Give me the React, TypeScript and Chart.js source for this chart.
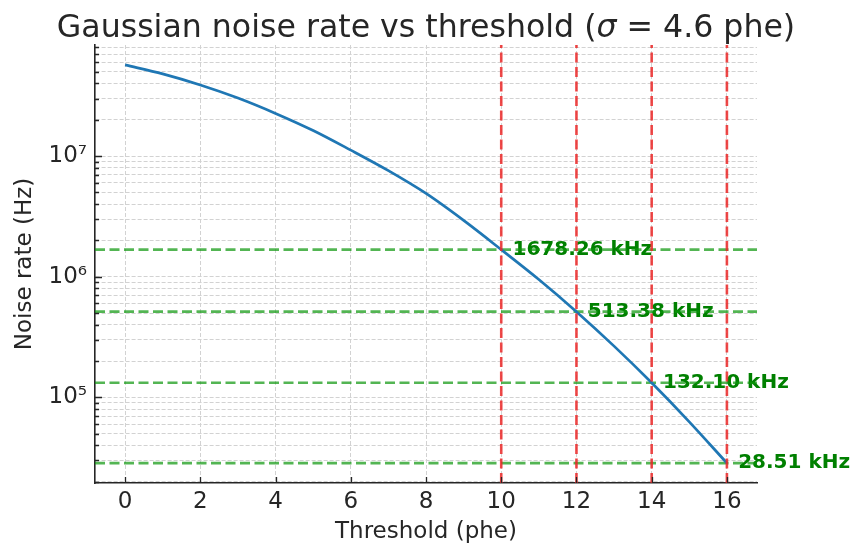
import React, { useEffect, useRef } from 'react';
import { Chart, registerables } from 'chart.js';

Chart.register(...registerables);

// ---- data ----
const thresholds = [0, 1, 2, 3, 4, 5, 6, 7, 8, 9, 10, 11, 12, 13, 14, 15, 16];
const noiseRateHz = [
  5.70e7, 4.81e7, 3.89e7, 3.03e7, 2.26e7, 1.63e7, 1.12e7, 7.57e6, 4.90e6,
  2.93e6, 1.67826e6, 9.48e5, 5.1338e5, 2.66e5, 1.321e5, 6.27e4, 2.851e4,
];
const markerThresholds = [10, 12, 14, 16];
const markerRatesHz = [1678260, 513380, 132100, 28510];
const markerLabels = ['1678.26 kHz', '513.38 kHz', '132.10 kHz', '28.51 kHz'];
const xTickValues = [0, 2, 4, 6, 8, 10, 12, 14, 16];
const yMajorTickValues = [1e5, 1e6, 1e7];
const yMajorTickLabels = ['10⁵', '10⁶', '10⁷'];

const X_MIN = -0.8;
const X_MAX = 16.8;
const Y_MIN = 1.95e4;
const Y_MAX = 8.34e7;

const FONT = "'DejaVu Sans', sans-serif";
const TEXT = '#262626';

function yAllTicks(): number[] {
  const out: number[] = [];
  for (let e = 4; e <= 7; e++) {
    for (let m = 1; m <= 9; m++) {
      const v = m * Math.pow(10, e);
      if (v >= Y_MIN && v <= Y_MAX) out.push(v);
    }
  }
  return out;
}

const overlayPlugin = {
  id: 'overlay',
  beforeDatasetsDraw(chart: any) {
    const { ctx, scales } = chart;
    const xs = scales.x;
    const ys = scales.y;
    ctx.save();
    ctx.font = `bold 20px ${FONT}`;
    ctx.fillStyle = '#008000';
    ctx.textAlign = 'left';
    ctx.textBaseline = 'middle';
    markerThresholds.forEach((t, i) => {
      const px = xs.getPixelForValue(t + 0.3);
      const py = ys.getPixelForValue(markerRatesHz[i]);
      ctx.fillText(markerLabels[i], px, py);
    });
    ctx.restore();
  },
  afterDraw(chart: any) {
    const { ctx, scales, chartArea } = chart;
    const xs = scales.x;
    const ys = scales.y;
    ctx.save();
    // inward tick marks
    ctx.strokeStyle = TEXT;
    ctx.lineWidth = 1.3;
    ctx.beginPath();
    xTickValues.forEach((v) => {
      const px = Math.round(xs.getPixelForValue(v)) + 0.5;
      ctx.moveTo(px, chartArea.bottom);
      ctx.lineTo(px, chartArea.bottom - 6);
    });
    yAllTicks().forEach((v) => {
      const py = Math.round(ys.getPixelForValue(v)) + 0.5;
      const major = yMajorTickValues.includes(v);
      ctx.moveTo(chartArea.left, py);
      ctx.lineTo(chartArea.left + (major ? 7 : 4), py);
    });
    ctx.stroke();

    // title with italic sigma
    const partA = 'Gaussian noise rate vs threshold (';
    const partB = 'σ';
    const partC = ' = 4.6 phe)';
    const fA = `31.6px ${FONT}`;
    const fB = `italic 31.6px ${FONT}`;
    ctx.font = fA;
    const wA = ctx.measureText(partA).width;
    const wC = ctx.measureText(partC).width;
    ctx.font = fB;
    const wB = ctx.measureText(partB).width;
    const total = wA + wB + wC;
    const cx = (chartArea.left + chartArea.right) / 2;
    let x = cx - total / 2;
    const y = 37;
    ctx.fillStyle = TEXT;
    ctx.textBaseline = 'alphabetic';
    ctx.textAlign = 'left';
    ctx.font = fA;
    ctx.fillText(partA, x, y);
    x += wA;
    ctx.font = fB;
    ctx.fillText(partB, x, y);
    x += wB;
    ctx.font = fA;
    ctx.fillText(partC, x, y);
    ctx.restore();
  },
};

export default function App() {
  const canvasRef = useRef<HTMLCanvasElement | null>(null);

  useEffect(() => {
    const canvas = canvasRef.current;
    if (!canvas) return;

    const curve = thresholds.map((t, i) => ({ x: t, y: noiseRateHz[i] }));
    const redLines = markerThresholds.map((t) => ({
      type: 'line',
      data: [
        { x: t, y: Y_MIN },
        { x: t, y: Y_MAX },
      ],
      borderColor: 'rgba(235,40,40,0.85)',
      borderWidth: 2.6,
      borderDash: [10, 4.5],
      pointRadius: 0,
      order: 1,
    }));
    const greenLines = markerRatesHz.map((r) => ({
      type: 'line',
      data: [
        { x: X_MIN, y: r },
        { x: X_MAX, y: r },
      ],
      borderColor: 'rgba(10,150,10,0.7)',
      borderWidth: 2.6,
      borderDash: [10, 4.5],
      pointRadius: 0,
      order: 3,
    }));

    const chart = new Chart(canvas, {
      type: 'line',
      data: {
        datasets: [
          {
            data: curve,
            borderColor: '#1f77b4',
            borderWidth: 2.7,
            pointRadius: 0,
            tension: 0.3,
            cubicInterpolationMode: 'monotone',
            order: 2,
          } as any,
          ...(redLines as any[]),
          ...(greenLines as any[]),
        ],
      },
      options: {
        responsive: false,
        animation: false,
        devicePixelRatio: 1,
        layout: { padding: { left: 0, right: 93, top: 45, bottom: 0 } },
        plugins: {
          legend: { display: false },
          tooltip: { enabled: false },
          title: { display: false },
        },
        scales: {
          x: {
            type: 'linear',
            min: X_MIN,
            max: X_MAX,
            afterBuildTicks: (scale: any) => {
              scale.ticks = xTickValues.map((v) => ({ value: v }));
            },
            afterFit: (scale: any) => {
              scale.height = 63;
            },
            ticks: {
              autoSkip: false,
              maxRotation: 0,
              padding: 5,
              color: TEXT,
              font: { family: FONT, size: 23 },
              callback: (v: any) => String(v),
            },
            grid: {
              drawTicks: false,
              color: '#d2d2d2',
              lineWidth: 1,
            },
            border: {
              display: true,
              color: TEXT,
              width: 1.6,
              dash: [4, 2],
            },
            title: {
              display: true,
              text: 'Threshold (phe)',
              color: TEXT,
              font: { family: FONT, size: 23 },
              padding: { top: 0, bottom: 0 },
            },
          },
          y: {
            type: 'logarithmic',
            min: Y_MIN,
            max: Y_MAX,
            afterBuildTicks: (scale: any) => {
              scale.ticks = yAllTicks().map((v) => ({ value: v }));
            },
            afterFit: (scale: any) => {
              scale.width = 95;
            },
            ticks: {
              autoSkip: false,
              padding: 8,
              color: TEXT,
              font: { family: FONT, size: 23 },
              callback: (v: any) => {
                const idx = yMajorTickValues.indexOf(Number(v));
                return idx >= 0 ? yMajorTickLabels[idx] : '';
              },
            },
            grid: {
              drawTicks: false,
              color: '#d2d2d2',
              lineWidth: 1,
            },
            border: {
              display: true,
              color: TEXT,
              width: 1.6,
              dash: [4, 2],
            },
            title: {
              display: true,
              text: 'Noise rate (Hz)',
              color: TEXT,
              font: { family: FONT, size: 23 },
              padding: { top: 11, bottom: 0 },
            },
          },
        },
      } as any,
      plugins: [overlayPlugin],
    });

    return () => chart.destroy();
  }, []);

  return (
    <div style={{ position: 'absolute', left: 0, top: 0, width: 850, height: 546, background: '#fff' }}>
      <canvas ref={canvasRef} width={850} height={546} style={{ display: 'block', width: 850, height: 546 }} />
    </div>
  );
}
